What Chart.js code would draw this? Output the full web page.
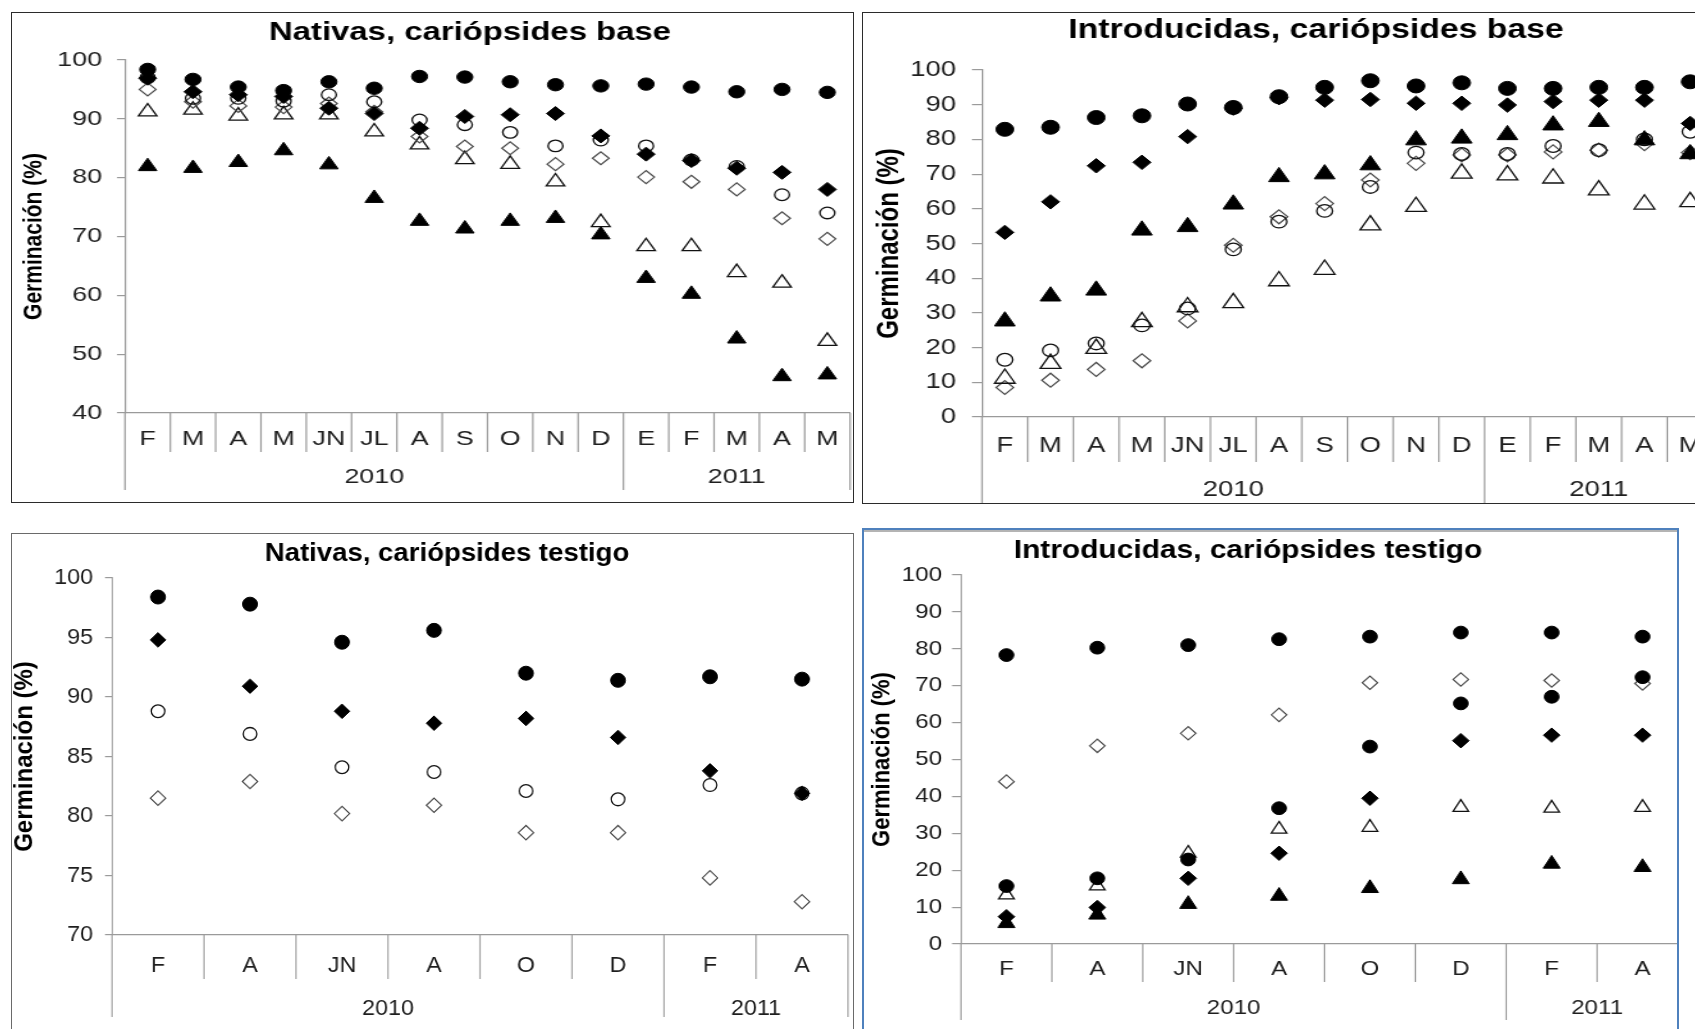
<!DOCTYPE html>
<html lang="es">
<head>
<meta charset="utf-8">
<title>Germinación de cariópsides, 2010-2011</title>
<script src="https://cdn.jsdelivr.net/npm/chart.js@4.4.1/dist/chart.umd.min.js"></script>
<style>
  html, body { margin: 0; padding: 0; width: 1695px; height: 1029px; overflow: hidden; background: #fff; }
  .panel { position: absolute; box-sizing: border-box; overflow: hidden; background: #fff; }
  .panel canvas { position: absolute; left: 0; top: 0; transform-origin: 0 0; }
  .franja { position: absolute; left: 0; top: 0; right: 0; height: 2px; background: #b4b4b4; }
</style>
</head>
<body>
<div id="p1" class="panel" style="left:11px;top:12px;width:843px;height:491px;border:1px solid #2b2b2b;"><canvas></canvas></div>
<div id="p2" class="panel" style="left:862px;top:12px;width:860px;height:492px;border:1px solid #2b2b2b;"><canvas></canvas></div>
<div id="p3" class="panel" style="left:11px;top:533px;width:843px;height:530px;border:1px solid #6a6a6a;"><canvas></canvas></div>
<div id="p4" class="panel" style="left:862px;top:528px;width:817px;height:530px;border:2px solid #4f81bd;"><div class="franja"></div><canvas></canvas></div>
<script>
// ---- Etiquetas de los ejes ----
const mesesBase = ['F', 'M', 'A', 'M', 'JN', 'JL', 'A', 'S', 'O', 'N', 'D', 'E', 'F', 'M', 'A', 'M'];
const mesesTestigo = ['F', 'A', 'JN', 'A', 'O', 'D', 'F', 'A'];
const anios = ['2010', '2011'];
const mesesPorAnioBase = [11, 5];
const mesesPorAnioTestigo = [6, 2];

// ---- Nativas, cariópsides base (% germinación) ----
const natBaseCirculoLleno   = [98.4, 96.7, 95.4, 94.8, 96.3, 95.2, 97.2, 97.1, 96.3, 95.8, 95.6, 95.9, 95.4, 94.6, 95.0, 94.5];
const natBaseRomboLleno     = [96.9, 94.6, 94.1, 93.8, 91.8, 90.9, 88.4, 90.4, 90.7, 90.9, 87.1, 84.0, 82.9, 81.6, 80.9, 78.0];
const natBaseCirculoVacio   = [97.0, 93.5, 93.5, 93.0, 94.1, 92.9, 89.8, 89.0, 87.7, 85.4, 86.4, 85.4, 83.0, 81.9, 77.1, 74.0];
const natBaseRomboVacio     = [95.0, 92.9, 92.2, 92.0, 92.6, 91.2, 87.0, 85.3, 85.0, 82.3, 83.3, 80.1, 79.3, 78.0, 73.1, 69.6];
const natBaseTrianguloVacio = [91.2, 91.5, 90.5, 90.7, 90.7, 87.8, 85.6, 83.1, 82.3, 79.3, 72.4, 68.3, 68.3, 63.9, 62.1, 52.2];
const natBaseTrianguloLleno = [81.9, 81.6, 82.6, 84.6, 82.2, 76.5, 72.6, 71.3, 72.6, 73.1, 70.3, 62.9, 60.2, 52.6, 46.2, 46.5];

// ---- Introducidas, cariópsides base ----
const intBaseCirculoLleno   = [82.9, 83.5, 86.3, 86.8, 90.2, 89.2, 92.3, 95.0, 96.9, 95.4, 96.3, 94.7, 94.7, 95.0, 95.0, 96.6];
const intBaseRomboLleno     = [53.2, 62.0, 72.4, 73.4, 80.8, 89.0, 92.0, 91.3, 91.5, 90.4, 90.4, 89.9, 90.9, 91.3, 91.3, 84.6];
const intBaseTrianguloLleno = [27.6, 34.8, 36.5, 53.8, 54.8, 61.3, 69.2, 70.0, 72.6, 79.8, 80.3, 81.3, 84.1, 85.1, 79.8, 75.8];
const intBaseCirculoVacio   = [16.5, 19.2, 21.2, 26.4, 31.3, 48.3, 56.3, 59.4, 66.3, 76.2, 75.8, 75.8, 78.1, 76.9, 80.0, 82.2];
const intBaseTrianguloVacio = [11.1, 15.4, 19.7, 27.4, 31.7, 32.9, 39.2, 42.5, 55.3, 60.6, 70.2, 69.7, 68.8, 65.4, 61.3, 62.0];
const intBaseRomboVacio     = [8.5, 10.6, 13.7, 16.2, 27.7, 49.5, 57.7, 61.5, 68.3, 73.1, 75.5, 75.5, 76.4, 76.9, 78.8, 76.2];

// ---- Nativas, cariópsides testigo ----
const natTestCirculoLleno = [98.4, 97.8, 94.6, 95.6, 92.0, 91.4, 91.7, 91.5];
const natTestRomboLleno   = [94.8, 90.9, 88.8, 87.8, 88.2, 86.6, 83.8, 81.9];
const natTestCirculoVacio = [88.8, 86.9, 84.1, 83.7, 82.1, 81.4, 82.6, 81.9];
const natTestRomboVacio   = [81.5, 82.9, 80.2, 80.9, 78.6, 78.6, 74.8, 72.8];

// ---- Introducidas, cariópsides testigo ----
const intTestCirculoLlenoA  = [78.3, 80.3, 81.0, 82.6, 83.3, 84.4, 84.4, 83.3];
const intTestRomboVacio     = [44.0, 53.7, 57.1, 62.1, 70.8, 71.7, 71.4, 70.6];
const intTestCirculoLlenoB  = [15.7, 17.8, 22.9, 36.8, 53.5, 65.2, 67.0, 72.3];
const intTestRomboLleno     = [7.4, 9.9, 17.8, 24.6, 39.5, 55.1, 56.6, 56.6];
const intTestTrianguloVacio = [13.3, 15.7, 24.6, 31.1, 31.6, 37.0, 36.8, 37.0];
const intTestTrianguloLleno = [5.6, 7.9, 10.8, 13.0, 15.1, 17.5, 21.7, 20.8];

const FUENTE = '"Liberation Sans", Arial, sans-serif';
const GRIS_EJE = '#9a9a9a';
const COLOR_TEXTO = '#1e1e1e';

// Marcadores tipo Excel
function marcador(tipo, r) {
  const base = { showLine: false, clip: false, pointRadius: r, pointHoverRadius: r };
  switch (tipo) {
    case 'circuloLleno':   return { ...base, pointStyle: 'circle',   pointBackgroundColor: '#000', pointBorderColor: '#000', pointBorderWidth: 1 };
    case 'romboLleno':     return { ...base, pointStyle: 'rectRot',  pointBackgroundColor: '#000', pointBorderColor: '#000', pointBorderWidth: 1 };
    case 'trianguloLleno': return { ...base, pointStyle: 'triangle', pointBackgroundColor: '#000', pointBorderColor: '#000', pointBorderWidth: 1 };
    case 'circuloVacio':   return { ...base, pointStyle: 'circle',   pointBackgroundColor: 'rgba(0,0,0,0)', pointBorderColor: '#111', pointBorderWidth: 1.3 };
    case 'romboVacio':     return { ...base, pointStyle: 'rectRot',  pointBackgroundColor: 'rgba(0,0,0,0)', pointBorderColor: '#4a4a4a', pointBorderWidth: 1.2 };
    case 'trianguloVacio': return { ...base, pointStyle: 'triangle', pointBackgroundColor: 'rgba(0,0,0,0)', pointBorderColor: '#111', pointBorderWidth: 1.3 };
  }
}

// Título del panel, centrado donde se indique
const tituloPanel = {
  id: 'tituloPanel',
  afterDraw(chart, args, o) {
    const ctx = chart.ctx;
    ctx.save();
    ctx.font = `bold ${o.size}px ${FUENTE}`;
    ctx.fillStyle = '#000';
    ctx.textAlign = 'center';
    ctx.textBaseline = 'middle';
    ctx.fillText(o.text, o.x, o.y);
    ctx.restore();
  }
};

// Eje de categorías en dos niveles: meses, separadores y años
const ejeAnual = {
  id: 'ejeAnual',
  afterDraw(chart, args, o) {
    const x = chart.scales.x;
    const ctx = chart.ctx;
    const base = x.top;
    const etiquetas = chart.data.labels;
    const n = etiquetas.length;
    const limites = new Set([0]);
    let acc = 0;
    o.spans.forEach(k => { acc += k; limites.add(acc); });
    ctx.save();
    ctx.strokeStyle = GRIS_EJE;
    ctx.lineWidth = 1.2;
    for (let i = 0; i <= n; i++) {
      const px = x.getPixelForValue(i - 0.5);
      const len = limites.has(i) ? o.long : o.short;
      ctx.beginPath();
      ctx.moveTo(px, base);
      ctx.lineTo(px, base + len);
      ctx.stroke();
    }
    ctx.font = `${o.size}px ${FUENTE}`;
    ctx.fillStyle = COLOR_TEXTO;
    ctx.textAlign = 'center';
    ctx.textBaseline = 'middle';
    etiquetas.forEach((m, i) => ctx.fillText(m, x.getPixelForValue(i), base + o.monthY));
    acc = 0;
    o.years.forEach((y, j) => {
      const a = x.getPixelForValue(acc - 0.5);
      const b = x.getPixelForValue(acc + o.spans[j] - 0.5);
      ctx.fillText(y, (a + b) / 2, base + o.yearY);
      acc += o.spans[j];
    });
    ctx.restore();
  }
};

function crearPanel(p) {
  const canvas = document.querySelector('#' + p.id + ' canvas');
  const s = p.s;
  canvas.width = Math.round((p.contRight - p.ox) / s);
  canvas.height = p.contBottom - p.oy;
  canvas.style.transform = `scaleX(${s})`;

  const anchoEjeY = (p.plot.l - p.ox) / s;
  const altoEjeX = p.contBottom - p.plot.b;
  const tickLen = p.yTick / s;
  const tickPad = (p.plot.l - p.yLabelRight) / s - tickLen;
  const yTitleX = (p.yTitleX - p.ox) / s;

  new Chart(canvas, {
    type: 'line',
    data: { labels: p.labels, datasets: p.datasets },
    options: {
      responsive: false,
      devicePixelRatio: 1,
      animation: false,
      events: [],
      layout: {
        autoPadding: false,
        padding: { left: 0, top: p.plot.t - p.oy, right: canvas.width - (p.plot.r - p.ox) / s, bottom: 0 }
      },
      plugins: {
        legend: { display: false },
        tooltip: { enabled: false },
        tituloPanel: { text: p.title, size: p.titleSize, x: (p.titleX - p.ox) / s, y: p.titleY - p.oy },
        ejeAnual: { spans: p.spans, years: anios, short: p.sepShort, long: p.sepLong,
                    monthY: p.monthY, yearY: p.yearY, size: p.tickSize }
      },
      scales: {
        x: {
          type: 'category',
          offset: true,
          grid: { display: true, drawOnChartArea: false, drawTicks: false },
          border: { display: true, color: GRIS_EJE, width: 1.2 },
          ticks: { display: false },
          afterFit(scale) { scale.height = altoEjeX; }
        },
        y: {
          min: p.yMin, max: p.yMax,
          ticks: {
            stepSize: p.yStep, color: COLOR_TEXTO,
            font: { family: FUENTE, size: p.tickSize },
            padding: tickPad
          },
          grid: { drawOnChartArea: false, drawTicks: true, tickLength: tickLen, color: GRIS_EJE, lineWidth: 1.2 },
          border: { display: true, color: GRIS_EJE, width: 1.2 },
          title: {
            display: true, text: 'Germinación (%)', color: '#000',
            font: { family: FUENTE, size: p.yTitleSize, weight: 'bold', lineHeight: 1 },
            padding: { top: Math.max(0, yTitleX - p.yTitleSize / 2), bottom: 0 }
          },
          afterFit(scale) { scale.width = anchoEjeY; }
        }
      }
    },
    plugins: [tituloPanel, ejeAnual]
  });
}

crearPanel({
  id: 'p1', ox: 12, oy: 13, s: 1.28, contRight: 852, contBottom: 501,
  plot: { l: 125, r: 850, t: 60, b: 413 },
  title: 'Nativas, cariópsides base', titleSize: 25.7, titleX: 470, titleY: 33,
  yTitleSize: 21, yTitleX: 34, tickSize: 21, yTick: 8, yLabelRight: 102,
  yMin: 40, yMax: 100, yStep: 10,
  labels: mesesBase, spans: mesesPorAnioBase,
  sepShort: 39, sepLong: 77, yearY: 64, monthY: 26,
  datasets: [
    { label: '●', data: natBaseCirculoLleno, ...marcador('circuloLleno', 6.2) },
    { label: '◆', data: natBaseRomboLleno, ...marcador('romboLleno', 7) },
    { label: '○', data: natBaseCirculoVacio, ...marcador('circuloVacio', 5.8) },
    { label: '◇', data: natBaseRomboVacio, ...marcador('romboVacio', 6.5) },
    { label: '△', data: natBaseTrianguloVacio, ...marcador('trianguloVacio', 8.3) },
    { label: '▲', data: natBaseTrianguloLleno, ...marcador('trianguloLleno', 8.3) }
  ]
});

crearPanel({
  id: 'p2', ox: 863, oy: 13, s: 1.25, contRight: 1716, contBottom: 503,
  plot: { l: 982, r: 1713, t: 70, b: 417 },
  title: 'Introducidas, cariópsides base', titleSize: 27, titleX: 1316, titleY: 31,
  yTitleSize: 24, yTitleX: 890, tickSize: 22, yTick: 10, yLabelRight: 956,
  yMin: 0, yMax: 100, yStep: 10,
  labels: mesesBase, spans: mesesPorAnioBase,
  sepShort: 45, sepLong: 90, yearY: 73, monthY: 29,
  datasets: [
    { label: '●', data: intBaseCirculoLleno, ...marcador('circuloLleno', 7) },
    { label: '◆', data: intBaseRomboLleno, ...marcador('romboLleno', 7.2) },
    { label: '▲', data: intBaseTrianguloLleno, ...marcador('trianguloLleno', 9.5) },
    { label: '○', data: intBaseCirculoVacio, ...marcador('circuloVacio', 6.3) },
    { label: '△', data: intBaseTrianguloVacio, ...marcador('trianguloVacio', 9.5) },
    { label: '◇', data: intBaseRomboVacio, ...marcador('romboVacio', 7) }
  ]
});

crearPanel({
  id: 'p3', ox: 12, oy: 534, s: 1.06, contRight: 852, contBottom: 1050,
  plot: { l: 112, r: 848, t: 578, b: 935 },
  title: 'Nativas, cariópsides testigo', titleSize: 26, titleX: 447, titleY: 554,
  yTitleSize: 24, yTitleX: 24, tickSize: 22, yTick: 7, yLabelRight: 93,
  yMin: 70, yMax: 100, yStep: 5,
  labels: mesesTestigo, spans: mesesPorAnioTestigo,
  sepShort: 44, sepLong: 82, yearY: 74, monthY: 31,
  datasets: [
    { label: '●', data: natTestCirculoLleno, ...marcador('circuloLleno', 7) },
    { label: '◆', data: natTestRomboLleno, ...marcador('romboLleno', 7.3) },
    { label: '○', data: natTestCirculoVacio, ...marcador('circuloVacio', 6.4) },
    { label: '◇', data: natTestRomboVacio, ...marcador('romboVacio', 7.2) }
  ]
});

crearPanel({
  id: 'p4', ox: 864, oy: 530, s: 1.15, contRight: 1692, contBottom: 1046,
  plot: { l: 961, r: 1688, t: 575, b: 944 },
  title: 'Introducidas, cariópsides testigo', titleSize: 26, titleX: 1248, titleY: 551,
  yTitleSize: 22, yTitleX: 882, tickSize: 21, yTick: 9, yLabelRight: 942,
  yMin: 0, yMax: 100, yStep: 10,
  labels: mesesTestigo, spans: mesesPorAnioTestigo,
  sepShort: 38, sepLong: 76, yearY: 64, monthY: 25,
  datasets: [
    { label: '●', data: intTestCirculoLlenoA, ...marcador('circuloLleno', 6.4) },
    { label: '●', data: intTestCirculoLlenoB, ...marcador('circuloLleno', 6.4) },
    { label: '◇', data: intTestRomboVacio, ...marcador('romboVacio', 6.7) },
    { label: '◆', data: intTestRomboLleno, ...marcador('romboLleno', 7.2) },
    { label: '△', data: intTestTrianguloVacio, ...marcador('trianguloVacio', 7.8) },
    { label: '▲', data: intTestTrianguloLleno, ...marcador('trianguloLleno', 8.5) }
  ]
});
</script>
</body>
</html>
